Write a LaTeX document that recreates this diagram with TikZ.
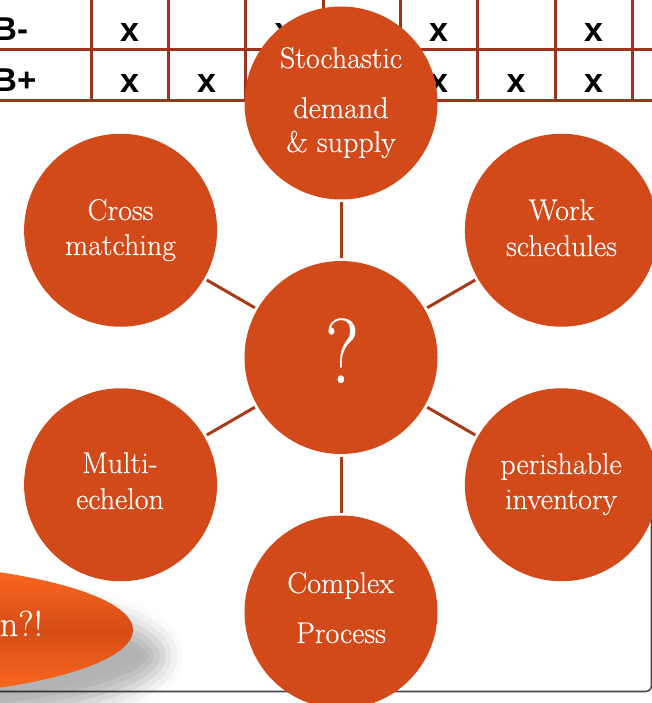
\documentclass[tikz,border=0pt]{standalone}
\usepackage{fontspec}
\newfontfamily\tabfont{Liberation Sans}
\newfontfamily\bubblefont{Latin Modern Roman}[FakeBold=0.35]
\usetikzlibrary{shadows.blur}

\definecolor{bubblefill}{RGB}{210,74,25}
\definecolor{spoke}{RGB}{168,58,24}
\definecolor{gridline}{RGB}{160,50,32}
\definecolor{frameline}{RGB}{72,72,72}
\definecolor{hot}{RGB}{255,108,32}
\definecolor{deep}{RGB}{214,76,22}

\begin{document}
\begin{tikzpicture}[x=1pt,y=-1pt,
  bubble/.style={circle, fill=bubblefill, minimum size=193pt, inner sep=0pt, outer sep=3pt},
  spokeline/.style={draw=spoke, line width=3pt},
  word/.style={text=white, font=\bubblefont\fontsize{30}{34}\selectfont, inner sep=0pt, anchor=base},
  cell/.style={font=\tabfont\bfseries\fontsize{34}{34}\selectfont, inner sep=0pt, anchor=base},
  rowhead/.style={font=\tabfont\bfseries\fontsize{33}{33}\selectfont, inner sep=0pt, anchor=base west},
  gridrule/.style={draw=gridline, line width=3pt}]

\useasboundingbox (0,0) rectangle (652,703);
\clip (0,0) rectangle (652,703);

% availability table behind the diagram
\foreach \yy in {50,101} \draw[gridrule] (0,\yy) -- (652,\yy);
\foreach \xx in {91,168,245,323,400,477,555,632} \draw[gridrule] (\xx,0) -- (\xx,102.5);
\node[rowhead] (bminus) at (-7,41) {B-};
\node[rowhead] (bplus) at (-7,92) {B+};
\foreach \cx/\nm in {129.5/a1,284/a3,438.5/a5,593.5/a7}
  \node[cell] (m\nm) at (\cx,42) {x};
\foreach \cx/\nm in {129.5/b1,206.5/b2,438.5/b5,516/b6,593.5/b7}
  \node[cell] (p\nm) at (\cx,93) {x};

% slide frame
\draw[frameline, line width=1.6pt, rounded corners=6pt] (-10,691.5) -- (651.5,691.5) -- (651.5,500);

% callout ellipse with soft shadow
\path[top color=hot, bottom color=hot, middle color=deep,
  blur shadow={shadow xshift=30pt, shadow yshift=-26pt, shadow blur radius=20pt, shadow opacity=30}]
  (-150,630) ellipse [x radius=283pt, y radius=68pt];
\node[text=white, inner sep=0pt, anchor=base east, font=\bubblefont\fontsize{36}{36}\selectfont] (tag) at (43,636) {n?!};

% hub and topics
\node[bubble] (hub) at (341,357.5) {};
\node[bubble] (stoch) at (341,103) {};
\node[bubble] (work) at (561.4,230.25) {};
\node[bubble] (perish) at (561.4,484.75) {};
\node[bubble] (cplx) at (341,612) {};
\node[bubble] (multi) at (120.6,484.75) {};
\node[bubble] (cross) at (120.6,230.25) {};

\foreach \t in {stoch,work,perish,cplx,multi,cross}
  \draw[spokeline] (hub) -- (\t);

\node[text=white, inner sep=0pt, anchor=base, font=\bubblefont\fontsize{92}{92}\selectfont] (qm) at (342,383) {\scalebox{0.85}[1]{?}};

\node[word] (s1) at (341,68) {Stochastic};
\node[word] (s2) at (341,118) {demand};
\node[word] (s3) at (341,152) {\& supply};
\node[word] (c1) at (120.5,220) {Cross};
\node[word] (c2) at (120.5,255) {matching};
\node[word] (w1) at (561.5,220) {Work};
\node[word] (w2) at (561.5,256) {schedules};
\node[word] (e1) at (120,473) {Multi-};
\node[word] (e2) at (120,509) {echelon};
\node[word] (i1) at (561,474) {perishable};
\node[word] (i2) at (561,509) {inventory};
\node[word] (x1) at (340.5,593) {Complex};
\node[word] (x2) at (341,643) {Process};
\end{tikzpicture}
\end{document}
